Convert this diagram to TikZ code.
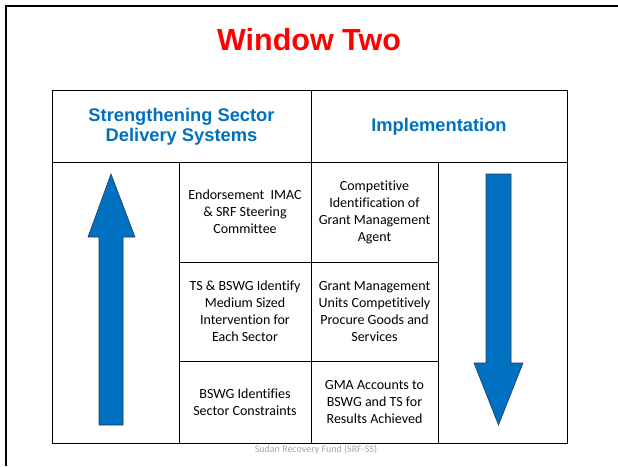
\documentclass[tikz,border=0pt]{standalone}
\usepackage{fontspec}
\setmainfont{Carlito}[Ligatures={NoCommon}]
\newfontfamily\headfont{Liberation Sans}
\definecolor{srfblue}{HTML}{0070C0}
\definecolor{arrowline}{HTML}{1F3A5F}
\definecolor{footgray}{HTML}{A6A6A6}

\begin{document}
\begin{tikzpicture}[x=1pt,y=-1pt,
        cell/.style={align=center,inner sep=0pt,font=\fontsize{14}{17}\selectfont},
        head/.style={align=center,inner sep=0pt,text=srfblue,font=\headfont\bfseries\fontsize{18.3}{20}\selectfont},
        bigarrow/.style={fill=srfblue,draw=arrowline,line width=0.6pt}]
        \useasboundingbox (0,0) rectangle (618,466);
        % slide frame
        \draw[line width=2.5pt] (6,466) -- (6,6) -- (618,6);
        \node[anchor=base,text=red,font=\headfont\bfseries\fontsize{30.5}{36}\selectfont] (title) at (309,50) {Window Two};
        % table grid
        \draw[line width=1pt] (52,90) rectangle (567,443);
        \draw[line width=1pt] (52,162) -- (567,162);
        \draw[line width=1pt] (311,90) -- (311,443);
        \draw[line width=1pt] (179,162) -- (179,443);
        \draw[line width=1pt] (438,162) -- (438,443);
        \draw[line width=1pt] (179,262) -- (438,262);
        \draw[line width=1pt] (179,361) -- (438,361);
        % headers
        \node[head] (strength) at (181.5,127) {Strengthening Sector\\Delivery Systems};
        \node[head] (implement) at (439,127) {Implementation};
        % cells
        \node[cell] (endorse) at (245,212) {Endorsement\ \ IMAC\\\& SRF Steering\\Committee};
        \node[cell] (identify) at (245,311.5) {TS \& BSWG Identify\\Medium Sized\\Intervention for\\Each Sector};
        \node[cell] (constraints) at (245,402) {BSWG Identifies\\Sector Constraints};
        \node[cell] (gma) at (374.5,212) {Competitive\\Identification of\\Grant Management\\Agent};
        \node[cell] (procure) at (374.5,311.5) {Grant Management\\Units Competitively\\Procure Goods and\\Services};
        \node[cell] (accounts) at (374.5,402) {GMA Accounts to\\BSWG and TS for\\Results Achieved};
        % arrows
        \draw[bigarrow] (111,174) -- (135,237) -- (123,237) -- (123,425) -- (99,425) -- (99,237) -- (88,237) -- cycle;
        \draw[bigarrow] (498.5,425) -- (523,363) -- (511,363) -- (511,174) -- (486,174) -- (486,363) -- (474,363) -- cycle;
        \node[text=footgray,inner sep=0pt,font=\fontsize{10}{12}\selectfont] (footer) at (316,449.5) {Sudan Recovery Fund (SRF-SS)};
\end{tikzpicture}
\end{document}
